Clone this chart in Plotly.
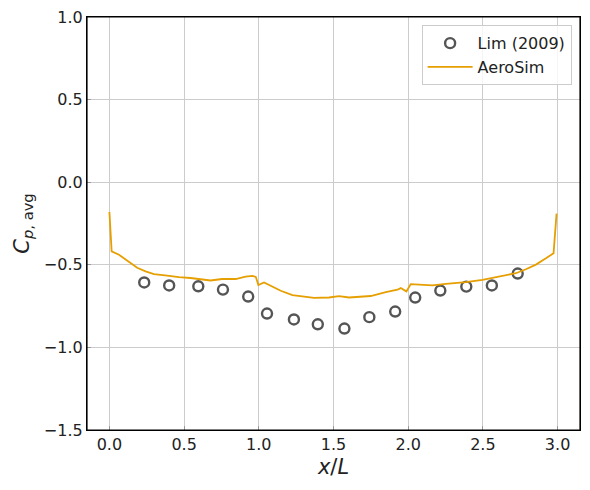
import plotly.graph_objects as go

# Lim (2009) experimental points
LIM_X = [0.233, 0.40, 0.595, 0.76, 0.929, 1.055, 1.235, 1.395, 1.573, 1.74, 1.913, 2.047, 2.215, 2.389, 2.56, 2.733]
LIM_CP = [-0.607, -0.625, -0.63, -0.65, -0.692, -0.795, -0.831, -0.86, -0.886, -0.817, -0.783, -0.698, -0.656, -0.632, -0.625, -0.553]

# AeroSim average pressure coefficient along the roof
SIM_X = [0.0, 0.015, 0.064, 0.13, 0.186, 0.242, 0.298, 0.387, 0.465, 0.543, 0.677, 0.755, 0.845, 0.912,
         0.957, 0.98, 0.997, 1.035, 1.08, 1.147, 1.225, 1.292, 1.37, 1.47, 1.537, 1.604, 1.749, 1.85,
         1.928, 1.95, 1.988, 2.017, 2.073, 2.162, 2.252, 2.386, 2.497, 2.609, 2.721, 2.788, 2.855, 2.922,
         2.973, 2.993]
SIM_CP = [-0.18, -0.419, -0.439, -0.484, -0.518, -0.54, -0.557, -0.565, -0.575, -0.58, -0.595, -0.586, -0.586, -0.571,
          -0.567, -0.573, -0.623, -0.607, -0.627, -0.657, -0.683, -0.69, -0.7, -0.698, -0.69, -0.698, -0.689, -0.665,
          -0.651, -0.641, -0.661, -0.617, -0.621, -0.625, -0.615, -0.605, -0.591, -0.571, -0.551, -0.527, -0.499, -0.461,
          -0.43, -0.19]

X_TICKS = [0.0, 0.5, 1.0, 1.5, 2.0, 2.5, 3.0]
Y_TICKS = [1.0, 0.5, 0.0, -0.5, -1.0, -1.5]

fig = go.Figure()

fig.add_trace(go.Scatter(
    x=LIM_X, y=LIM_CP, mode="markers", name="Lim (2009)",
    marker=dict(symbol="circle-open", size=10, color="#555555", line=dict(width=2.4, color="#555555"))))

fig.add_trace(go.Scatter(
    x=SIM_X, y=SIM_CP, mode="lines", name="AeroSim",
    line=dict(color="#E69F00", width=1.8)))

axis_common = dict(
    showgrid=True, gridcolor="#cccccc", gridwidth=0.8,
    showline=True, linecolor="black", linewidth=1.2, mirror=True,
    ticks="inside", ticklen=4, tickcolor="#999999", automargin=False,
    ticklabeloverflow="allow",
    tickfont=dict(size=16, color="#222222"), zeroline=False)

fig.update_xaxes(range=[-0.15, 3.15], tickvals=X_TICKS, ticktext=["%.1f" % v for v in X_TICKS],
                 title=dict(text="<i>x</i>/<i>L</i>", font=dict(size=21, color="#222222"), standoff=6),
                 **axis_common)
fig.update_yaxes(range=[-1.5, 1.0], tickvals=Y_TICKS, ticktext=[("%.1f" % v).replace("-", "\u2212") for v in Y_TICKS],
                 title=dict(text="<i>C</i><sub><i>p</i>, avg</sub>", font=dict(size=21, color="#222222"), standoff=8),
                 **axis_common)

# plot frame
fig.add_shape(type="rect", xref="paper", yref="paper", x0=0, y0=0, x1=1, y1=1,
              line=dict(color="black", width=1.2), layer="above")

# page body adds an 8px offset, so margins are shifted to compensate
fig.update_layout(
    width=590, height=490,
    margin=dict(l=79, r=18, t=9, b=68),
    plot_bgcolor="white", paper_bgcolor="white",
    font=dict(family="DejaVu Sans", color="#222222"),
    legend=dict(x=0.983, y=0.98, xanchor="right", yanchor="top", itemwidth=45,
                bgcolor="rgba(255,255,255,0.8)", bordercolor="#cccccc", borderwidth=1,
                font=dict(size=16)))

fig.write_html("out.html")
